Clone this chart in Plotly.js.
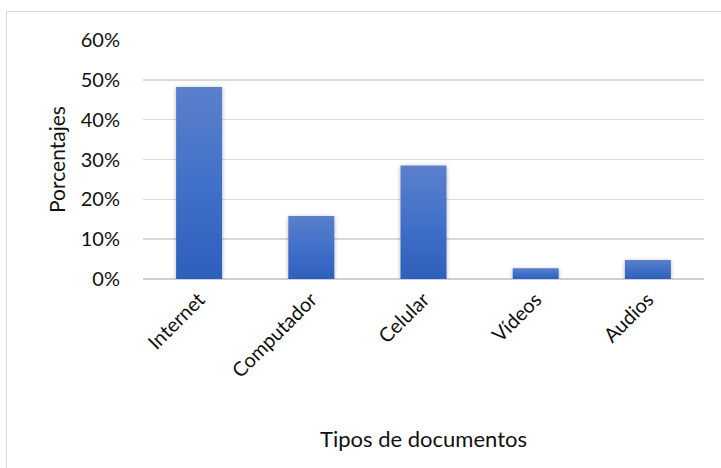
<!DOCTYPE html>
<html>
<head>
<meta charset="utf-8">
<script src="https://cdn.plot.ly/plotly-3.0.1.min.js"></script>
<style>
  html, body { margin: 0; padding: 0; background: #ffffff; }
  #wrap { position: relative; width: 721px; height: 468px; overflow: hidden; }
  #frame { position: absolute; left: 6px; top: 11px; width: 760px; height: 500px;
           border-left: 1.5px solid #d9d9d9; border-top: 1.5px solid #d9d9d9; box-sizing: border-box; }
  #chart { position: absolute; left: 0; top: 0; width: 721px; height: 468px; }
</style>
</head>
<body>
<div id="wrap">
  <div id="frame"></div>
  <div id="chart"></div>
</div>
<script>
const categories = ["Internet", "Computador", "Celular", "Vídeos", "Audios"];
const values = [0.482, 0.158, 0.285, 0.027, 0.048];
const yTickValues = [0, 0.1, 0.2, 0.3, 0.4, 0.5, 0.6];
const yTickLabels = ["0%", "10%", "20%", "30%", "40%", "50%", "60%"];
const xTitle = "Tipos de documentos";
const yTitle = "Porcentajes";

const FONT = "Lato, 'Open Sans', sans-serif";
const TXT = "#111111";

const trace = {
  type: "bar",
  x: categories,
  y: values,
  width: 0.41,
  marker: { color: "#4472c4", line: { width: 0 } },
  hoverinfo: "none"
};

const layout = {
  width: 721,
  height: 468,
  margin: { l: 143, r: 17, t: 40, b: 189 },
  paper_bgcolor: "rgba(0,0,0,0)",
  plot_bgcolor: "rgba(0,0,0,0)",
  showlegend: false,
  font: { family: FONT, size: 20, color: TXT },
  xaxis: {
    type: "category",
    tickangle: -45,
    showgrid: false,
    showline: false,
    zeroline: false,
    ticks: "",
    ticklabelstandoff: 4,
    tickfont: { family: FONT, size: 20, color: TXT },
    title: { text: xTitle, font: { family: FONT, size: 22, color: TXT }, standoff: 50 },
    automargin: false
  },
  yaxis: {
    range: [0, 0.6],
    tickvals: yTickValues,
    ticktext: yTickLabels,
    showgrid: true,
    gridcolor: "#d9d9d9",
    gridwidth: 1.5,
    zeroline: true,
    zerolinecolor: "#d0d0d0",
    zerolinewidth: 1.5,
    showline: false,
    ticks: "",
    ticklabelstandoff: 22,
    tickfont: { family: FONT, size: 20, color: TXT },
    title: { text: yTitle, font: { family: FONT, size: 21, color: TXT }, standoff: 9 },
    automargin: false
  }
};

Plotly.newPlot("chart", [trace], layout, { staticPlot: true, displayModeBar: false }).then(function (gd) {
  const svg = gd.querySelector("svg.main-svg");
  const NS = "http://www.w3.org/2000/svg";
  let defs = svg.querySelector("defs");
  if (!defs) { defs = document.createElementNS(NS, "defs"); svg.insertBefore(defs, svg.firstChild); }
  const grad = document.createElementNS(NS, "linearGradient");
  grad.setAttribute("id", "barGrad");
  grad.setAttribute("x1", "0"); grad.setAttribute("y1", "0");
  grad.setAttribute("x2", "0"); grad.setAttribute("y2", "1");
  grad.setAttribute("gradientUnits", "objectBoundingBox");
  [["0%", "#5b80cc"], ["50%", "#4170c9"], ["100%", "#2e5fbc"]].forEach(function (s) {
    const st = document.createElementNS(NS, "stop");
    st.setAttribute("offset", s[0]); st.setAttribute("stop-color", s[1]);
    grad.appendChild(st);
  });
  defs.appendChild(grad);
  const filt = document.createElementNS(NS, "filter");
  filt.setAttribute("id", "barShadow");
  filt.setAttribute("x", "-30%"); filt.setAttribute("y", "-10%");
  filt.setAttribute("width", "160%"); filt.setAttribute("height", "130%");
  const ds = document.createElementNS(NS, "feDropShadow");
  ds.setAttribute("dx", "0"); ds.setAttribute("dy", "1");
  ds.setAttribute("stdDeviation", "2");
  ds.setAttribute("flood-color", "#000000"); ds.setAttribute("flood-opacity", "0.3");
  filt.appendChild(ds);
  defs.appendChild(filt);
  gd.querySelectorAll(".bars .point path").forEach(function (p) {
    p.style.fill = "url(#barGrad)";
    p.style.fillOpacity = "1";
    p.setAttribute("filter", "url(#barShadow)");
  });
});
</script>
</body>
</html>
